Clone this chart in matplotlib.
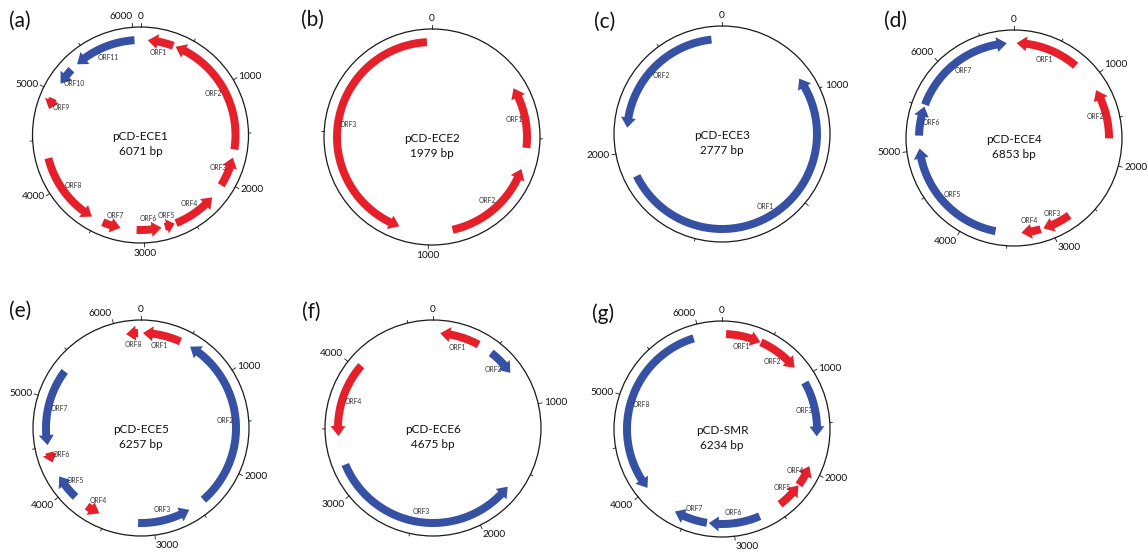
import numpy as np
import matplotlib.pyplot as plt
from matplotlib.patches import Polygon, Circle

plt.rcParams['font.family'] = ['Lato', 'DejaVu Sans']

RED = '#e5202a'
BLUE = '#3651a3'

# plasmid names and sizes (bp)
names = ['pCD-ECE1', 'pCD-ECE2', 'pCD-ECE3', 'pCD-ECE4', 'pCD-ECE5', 'pCD-ECE6', 'pCD-SMR']
sizes = [6071, 1979, 2777, 6853, 6257, 4675, 6234]
letters = ['(a)', '(b)', '(c)', '(d)', '(e)', '(f)', '(g)']

# where the scale labels sit (bp) and what they say
# (in the original (c) the "1000" label sits next to the 500 bp tick)
label_at = [[0, 1000, 2000, 3000, 4000, 5000, 6000],
            [0, 1000],
            [0, 500, 2000],
            [0, 1000, 2000, 3000, 4000, 5000, 6000],
            [0, 1000, 2000, 3000, 4000, 5000, 6000],
            [0, 1000, 2000, 3000, 4000],
            [0, 1000, 2000, 3000, 4000, 5000, 6000]]
label_txt = [['0', '1000', '2000', '3000', '4000', '5000', '6000'],
             ['0', '1000'],
             ['0', '1000', '2000'],
             ['0', '1000', '2000', '3000', '4000', '5000', '6000'],
             ['0', '1000', '2000', '3000', '4000', '5000', '6000'],
             ['0', '1000', '2000', '3000', '4000'],
             ['0', '1000', '2000', '3000', '4000', '5000', '6000']]

# ORFs: start, end, strand (+1 clockwise / -1 counter-clockwise), colour
a_start = [75, 365, 1750, 2210, 2680, 2820, 3240, 3555, 4820, 5105, 5365]
a_end = [340, 1665, 2056, 2665, 2785, 3075, 3430, 4315, 4935, 5285, 6010]
a_strand = [-1] * 11
a_color = ['r'] * 9 + ['b', 'b']

b_start = [325, 603, 1100]
b_end = [531, 921, 1962]
b_strand = [-1, -1, -1]
b_color = ['r', 'r', 'r']

c_start = [419, 2112]
c_end = [1881, 2728]
c_strand = [-1, -1]
c_color = ['b', 'b']

d_start = [30, 1138, 2751, 3117, 3640, 5167, 5530]
d_end = [770, 1717, 3084, 3341, 5020, 5508, 6770]
d_strand = [-1, -1, 1, 1, 1, 1, 1]
d_color = ['r', 'r', 'r', 'r', 'b', 'b', 'b']

e_start = [20, 541, 2597, 3581, 3885, 4324, 4512, 6100]
e_end = [426, 2416, 3159, 3730, 4161, 4432, 5329, 6227]
e_strand = [-1, -1, -1, -1, 1, -1, -1, -1]
e_color = ['r', 'b', 'b', 'r', 'b', 'r', 'b', 'r']

f_start = [56, 490, 1664, 3443]
f_end = [373, 708, 3213, 4039]
f_strand = [-1, 1, -1, -1]
f_color = ['r', 'b', 'b', 'r']

g_start = [43, 419, 1051, 1957, 2190, 2712, 3275, 4012]
g_end = [413, 864, 1636, 2182, 2466, 3256, 3632, 5934]
g_strand = [1, 1, 1, -1, -1, 1, 1, -1]
g_color = ['r', 'r', 'b', 'r', 'r', 'b', 'b', 'b']

orfs = [(a_start, a_end, a_strand, a_color),
        (b_start, b_end, b_strand, b_color),
        (c_start, c_end, c_strand, c_color),
        (d_start, d_end, d_strand, d_color),
        (e_start, e_end, e_strand, e_color),
        (f_start, f_end, f_strand, f_color),
        (g_start, g_end, g_strand, g_color)]

# layout in pixels
centers = [(140.5, 135), (432, 137), (722, 134), (1014, 138),
           (141, 428), (433, 428), (722, 429)]
letter_pos = [(9, 21), (301, 20), (594, 22), (884, 21),
              (9, 311), (302, 312), (592, 314)]
R = 108
RB = 95          # radius of the ORF band
HW = 4           # half width of band
HHW = 7.5        # half width of arrow head
HL = 10          # head length in px


def pt(cx, cy, r, th):
    return cx + r * np.sin(th), cy - r * np.cos(th)


def arc_arrow(ax, cx, cy, p0, p1, strand, total, color):
    t0 = 2 * np.pi * p0 / total
    t1 = 2 * np.pi * p1 / total
    if strand < 0:
        t0, t1 = t1, t0
    span = t1 - t0
    hl = min(HL / RB, 0.8 * abs(span))
    tb = t1 - np.sign(span) * hl
    th = np.linspace(t0, tb, 60)
    ox, oy = pt(cx, cy, RB + HW, th)
    ix, iy = pt(cx, cy, RB - HW, th[::-1])
    hx = [pt(cx, cy, RB + HHW, tb)[0], pt(cx, cy, RB, t1)[0], pt(cx, cy, RB - HHW, tb)[0]]
    hy = [pt(cx, cy, RB + HHW, tb)[1], pt(cx, cy, RB, t1)[1], pt(cx, cy, RB - HHW, tb)[1]]
    xs = np.concatenate([ox, hx, ix])
    ys = np.concatenate([oy, hy, iy])
    ax.add_patch(Polygon(np.column_stack([xs, ys]), closed=True, fc=color, ec='none'))


fig = plt.figure(figsize=(11.48, 5.52), dpi=100)
ax = fig.add_axes([0, 0, 1, 1])
ax.set_xlim(0, 1148)
ax.set_ylim(552, 0)
ax.set_aspect('equal')
ax.axis('off')

for k in range(7):
    cx, cy = centers[k]
    total = sizes[k]
    starts, ends, strands, cols = orfs[k]

    ax.add_patch(Circle((cx, cy), R, fill=False, ec='#1a1a1a', lw=0.9))

    # ticks every 500 bp
    for p in range(0, total, 500):
        t = 2 * np.pi * p / total
        ln = 4 if p % 1000 == 0 else 2.5
        x0, y0 = pt(cx, cy, R, t)
        x1, y1 = pt(cx, cy, R + ln, t)
        ax.plot([x0, x1], [y0, y1], color='#1a1a1a', lw=0.6)

    for p, lab in zip(label_at[k], label_txt[k]):
        t = 2 * np.pi * p / total
        s, c = np.sin(t), np.cos(t)
        ha = 'left' if s > 0.05 else ('right' if s < -0.05 else 'center')
        va = 'bottom' if c > 0.6 else ('top' if c < -0.6 else 'center')
        tx, ty = pt(cx, cy, R + 6, t)
        ax.text(tx, ty, lab, ha=ha, va=va, fontsize=7.3, color='#111111')

    for i in range(len(starts)):
        color = RED if cols[i] == 'r' else BLUE
        arc_arrow(ax, cx, cy, starts[i], ends[i], strands[i], total, color)
        mid = 2 * np.pi * (starts[i] + ends[i]) / 2 / total
        lx, ly = pt(cx, cy, 0.78 * R, mid)
        ax.text(lx, ly, 'ORF%d' % (i + 1), ha='center', va='center',
                fontsize=4.9, color='#333333')

    ax.text(cx, cy + 9, '%s\n%d bp' % (names[k], total), ha='center', va='center',
            fontsize=8.5, linespacing=1.35, color='#111111')
    ax.text(letter_pos[k][0], letter_pos[k][1], letters[k], ha='left', va='center',
            fontsize=15, color='#111111')

fig.savefig('out.png', dpi=100)
